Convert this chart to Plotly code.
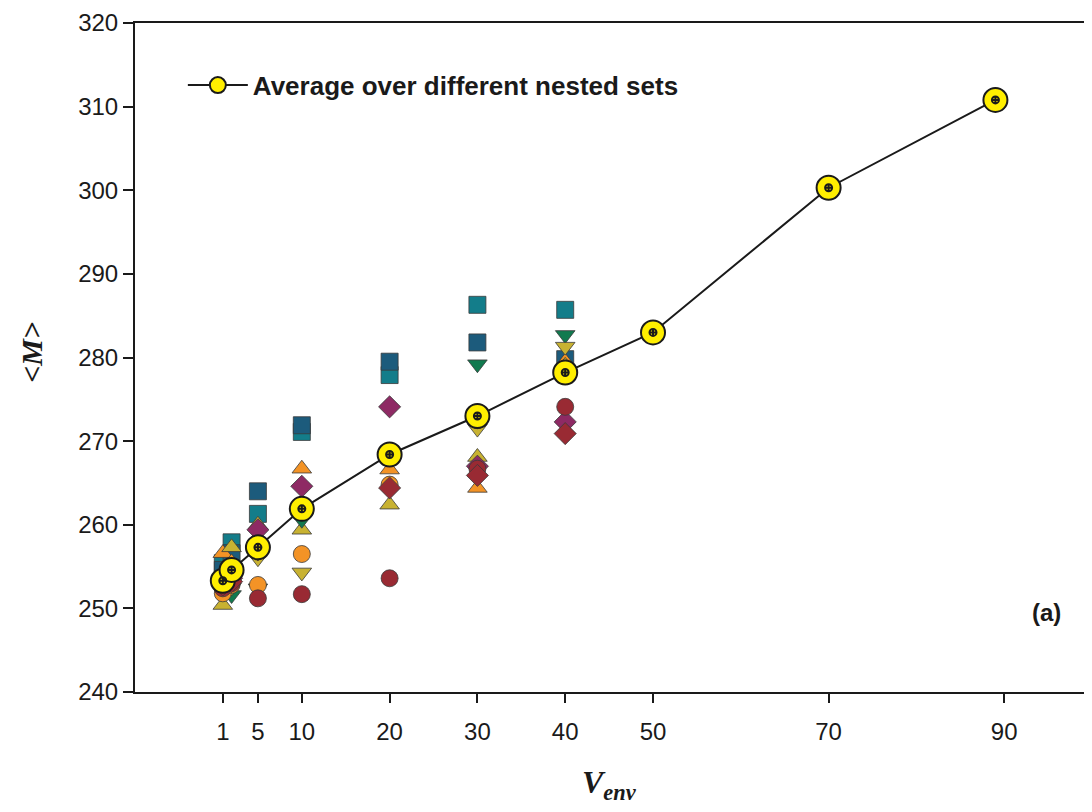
import plotly.graph_objects as go

# ---- data ----
x_sets = [1, 2, 5, 10, 20, 30, 40]

teal_square = [255.4, 257.9, 261.3, 271.1, 277.9, 286.3, 285.7]
blue_square = [254.6, 256.6, 264.0, 271.9, 279.5, 281.8, 279.8]
orange_tri_up = [256.6, 255.5, 258.5, 266.7, 266.6, 264.4, 279.5]
magenta_diamond = [253.0, 253.6, 259.4, 264.6, 274.1, 267.0, 272.3]
olive_tri_up = [250.4, 257.3, 260.0, 259.4, 262.4, 268.1, 279.0]
green_tri_down = [252.0, 251.6, 252.4, 260.6, 268.0, 279.2, 282.7]
olive_tri_down = [253.0, 252.5, 256.0, 254.3, 268.5, 271.5, 281.3]
orange_circle = [251.8, 252.8, 252.8, 256.5, 264.8, 272.5, 278.5]
red_circle = [252.4, 253.0, 251.2, 251.7, 253.6, 266.7, 274.1]
red_diamond = [252.8, 253.2, 257.0, 262.0, 264.4, 265.9, 270.9]

x_avg = [1, 2, 5, 10, 20, 30, 40, 50, 70, 89]
y_avg = [253.3, 254.6, 257.3, 261.9, 268.4, 273.0, 278.2, 283.0, 300.3, 310.8]

x_ticks = [1, 5, 10, 20, 30, 40, 50, 70, 90]
y_ticks = [240, 250, 260, 270, 280, 290, 300, 310, 320]

series = [
    (teal_square, "square", "#137d8a"),
    (blue_square, "square", "#1c5b7c"),
    (orange_tri_up, "triangle-up", "#f39326"),
    (olive_tri_up, "triangle-up", "#c8b232"),
    (magenta_diamond, "diamond", "#8e2a64"),
    (green_tri_down, "triangle-down", "#117a4f"),
    (olive_tri_down, "triangle-down", "#c8b232"),
    (orange_circle, "circle", "#f39326"),
    (red_circle, "circle", "#992a33"),
    (red_diamond, "diamond", "#992a33"),
]

fig = go.Figure()
for vals, sym, col in series:
    fig.add_trace(go.Scatter(
        x=x_sets, y=vals, mode="markers", showlegend=False,
        marker=dict(symbol=sym, size=17, color=col,
                    line=dict(color="#3a3a3a", width=0.8)),
    ))

fig.add_trace(go.Scatter(
    x=x_avg, y=y_avg, mode="lines+markers",
    name="<b>Average over different nested sets</b>",
    line=dict(color="#1a1a1a", width=2),
    marker=dict(symbol="circle", size=24, color="#ffee00",
                line=dict(color="#1a1a1a", width=2)),
))
fig.add_trace(go.Scatter(
    x=x_avg, y=y_avg, mode="markers", showlegend=False,
    marker=dict(symbol="circle-cross-open", size=7, color="#1a1a1a",
                line=dict(color="#1a1a1a", width=2)),
))

fig.add_annotation(x=0.97, y=0.095, xref="paper", yref="paper",
                   text="<b>(a)</b>", showarrow=False,
                   font=dict(size=24, color="#1a1a1a", family="Liberation Sans"))
fig.add_annotation(x=0.496, y=-0.138, xref="paper", yref="paper",
                   xanchor="center", yanchor="middle",
                   text="<b><i>V</i></b><sub><b><i>env</i></b></sub>",
                   showarrow=False,
                   font=dict(size=32, color="#1a1a1a", family="Liberation Serif"))
fig.add_annotation(x=-0.108, y=0.508, xref="paper", yref="paper",
                   xanchor="center", yanchor="middle", textangle=-90,
                   text="<b><i>&lt;M&gt;</i></b>", showarrow=False,
                   font=dict(size=30, color="#1a1a1a", family="Liberation Serif"))

fig.update_layout(
    width=1084, height=804,
    margin=dict(l=127, r=0, t=15, b=120),
    paper_bgcolor="white", plot_bgcolor="white",
    font=dict(family="Liberation Sans", size=24, color="#1a1a1a"),
    legend=dict(x=0.05, y=0.907, xanchor="left", yanchor="middle",
                bgcolor="rgba(0,0,0,0)", itemwidth=60,
                font=dict(size=26, family="Liberation Sans")),
    xaxis=dict(range=[-9, 100], tickvals=x_ticks, ticks="outside",
               ticklen=9, tickwidth=1.5, tickcolor="#1a1a1a",
               showline=True, linecolor="#1a1a1a", linewidth=2, mirror=True,
               showgrid=False, zeroline=False, ticklabelstandoff=8,
               automargin=False),
    yaxis=dict(range=[240, 320], tickvals=y_ticks, ticks="outside",
               ticklen=10, tickwidth=1.5, tickcolor="#1a1a1a",
               showline=True, linecolor="#1a1a1a", linewidth=2,
               showgrid=False, zeroline=False, automargin=False,
               ticklabeloverflow="allow"),
)

fig.write_html("out.html")
